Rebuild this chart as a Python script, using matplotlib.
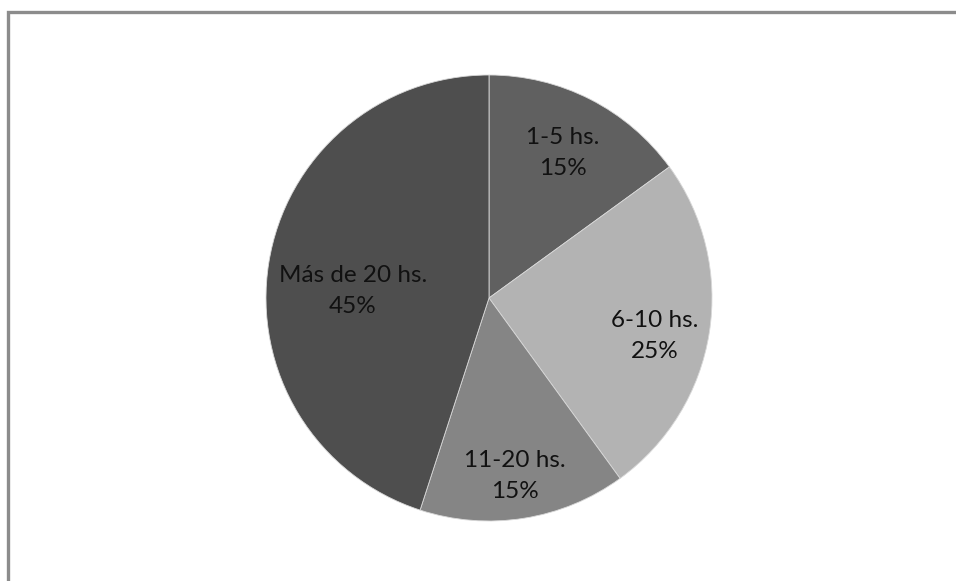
"""
Gráfico de torta: horas semanales (reproducción en matplotlib).
"""

import matplotlib
matplotlib.use("Agg")
import matplotlib.pyplot as plt
from matplotlib.patches import Rectangle

# ── Datos ─────────────────────────────────────────────────────────────────────
categorias = ["1-5 hs.", "6-10 hs.", "11-20 hs.", "Más de 20 hs."]
porcentajes = [15, 25, 15, 45]
colores = ["#606060", "#b3b3b3", "#858585", "#4e4e4e"]

W, H, DPI = 956, 581, 100
CX, CY, R = 489, 298, 223  # centro y radio de la torta en píxeles

# posición de cada etiqueta (en radios, como las ubica Excel)
POS_ETIQ = [(0.332, 0.650), (0.744, -0.170), (0.117, -0.798), (-0.610, 0.031)]

fig = plt.figure(figsize=(W / DPI, H / DPI), dpi=DPI)
fig.patch.set_facecolor("white")

# marco gris (solo se ve arriba y a la izquierda, la imagen está recortada)
fig.patches.append(Rectangle((8 / W, -0.05), 1.2, (H - 11.5) / H + 0.05,
                             transform=fig.transFigure, fill=False,
                             edgecolor="#8c8c8c", linewidth=2.4))

ax = fig.add_axes([(CX - R) / W, (H - CY - R) / H, 2 * R / W, 2 * R / H])
labels = [f"{c}\n{p}%" for c, p in zip(categorias, porcentajes)]
wedges, texts = ax.pie(
    porcentajes, labels=labels, colors=colores, startangle=90,
    counterclock=False, labeldistance=0.76, radius=1,
    wedgeprops=dict(edgecolor="#d8d8d8", linewidth=0.6),
    textprops=dict(fontsize=17.5, family=["Lato", "DejaVu Sans"],
                   color="#111111", ha="center", va="center",
                   linespacing=1.55),
)
for t, pos in zip(texts, POS_ETIQ):
    t.set_position(pos)

ax.set_xlim(-1, 1)
ax.set_ylim(-1, 1)
ax.set_aspect("equal")
ax.axis("off")

fig.savefig("out.png", dpi=DPI)
plt.close(fig)
